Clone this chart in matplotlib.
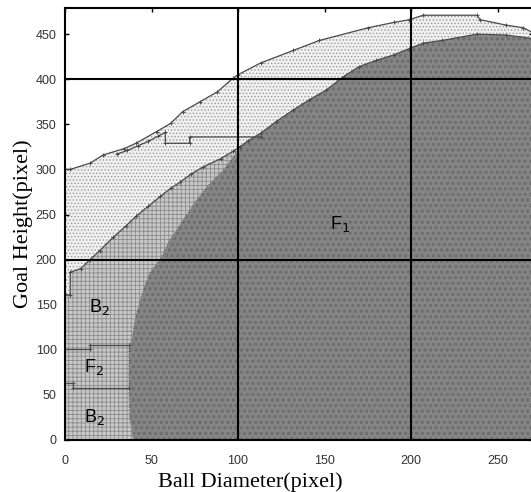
import matplotlib
matplotlib.use("Agg")
import matplotlib.pyplot as plt

# upper boundary (white / dotted region)
upper_x = [0, 3, 14.5, 22, 34, 41, 53, 61, 68, 78, 88, 97, 100, 113, 132, 147,
           175, 190, 199, 207, 238, 240, 255, 265, 271]
upper_y = [300, 300, 307, 316, 323, 329, 342, 351, 364, 375, 386, 401, 405, 418,
           432, 443, 457, 463, 466, 471, 471, 466, 460, 457, 451]

# inner line inside the dotted region
inner_x = [30, 36, 42, 48, 54, 58, 58, 72, 72, 113]
inner_y = [317, 321, 326, 331, 337, 341, 329, 329, 336, 336]

# F1 boundary, from the bottom up
f1_x = [39.5, 38.7, 37.5, 37, 37, 38.7, 40.5, 43, 46, 49, 55, 60.7, 68.4, 76, 84,
        91.5, 99, 101, 106, 113, 122, 132, 141, 151, 161, 170, 180, 190, 199, 207,
        218, 238, 255, 271]
f1_y = [0, 14, 22, 60, 103, 111, 133, 152, 170, 185, 200, 222, 244, 266, 285,
        299, 318, 325, 332, 340, 353, 366, 377, 388, 403, 414, 421, 427, 434, 440,
        443, 450, 449, 445]

# top of the B2/F2 band
band_x = [0, 3, 3, 9, 14.5, 20, 28, 35, 41, 48, 55, 61, 66.5, 73, 80, 90, 97, 101]
band_y = [161, 161, 186, 190, 200, 210, 225, 237, 248, 259, 270, 279, 286, 295,
          303, 312, 320, 325]

# F2 lines
f2_top_x = [0, 14.5, 14.5, 37]
f2_top_y = [101, 101, 105, 105]
f2_bot_x = [0, 4.5, 4.5, 37]
f2_bot_y = [63, 63, 58, 58]

grid_x = [100, 200]
grid_y = [200, 400]

fig = plt.figure(figsize=(5.31, 4.92), dpi=100)
ax = fig.add_axes([65 / 531, 52 / 492, 468 / 531, 432 / 492])
ax.set_xlim(0, 270.5)
ax.set_ylim(0, 479)

plt.rcParams['hatch.linewidth'] = 0.6

# dotted region
ax.fill_between(upper_x, 0, upper_y, facecolor='#f0f0f0', edgecolor='#9a9a9a',
                hatch='.....', linewidth=0, zorder=1)

# B2 / F2 band
n = f1_x.index(101)
med_x = [0] + f1_x[:n + 1] + band_x[::-1]
med_y = [0] + f1_y[:n + 1] + band_y[::-1]
ax.fill(med_x, med_y, facecolor='#c8c8c8', edgecolor='#8c8c8c', hatch='++++',
        linewidth=0, zorder=2)

# F1 region
dark_x = f1_x + [275, 275]
dark_y = f1_y + [440, 0]
ax.fill(dark_x, dark_y, facecolor='#858585', edgecolor='#6e6e6e', hatch='ooo',
        linewidth=0, zorder=3)

# boundary lines
line_kw = dict(color='#4a4a4a', lw=0.9, marker='+', ms=3, mew=0.7, zorder=4)
ax.plot(upper_x, upper_y, **line_kw)
ax.plot(inner_x, inner_y, **line_kw)
ax.plot(band_x, band_y, **line_kw)
ax.plot(f1_x[:n + 1], f1_y[:n + 1], color='#6a6a6a', lw=0.8, ls=':', zorder=4)
ax.plot(f1_x[n:], f1_y[n:], **line_kw)
ax.plot(f2_top_x, f2_top_y, **line_kw)
ax.plot(f2_bot_x, f2_bot_y, **line_kw)

for gx in grid_x:
    ax.axvline(gx, color='black', lw=1.5, zorder=5)
for gy in grid_y:
    ax.axhline(gy, color='black', lw=1.5, zorder=5)

# region labels
lab_kw = dict(fontsize=13, family='Liberation Sans', ha='center', va='center', zorder=6)
ax.text(20, 147, 'B$_2$', **lab_kw)
ax.text(17, 81, 'F$_2$', **lab_kw)
ax.text(17, 25, 'B$_2$', **lab_kw)
ax.text(159, 240, 'F$_1$', **lab_kw)

ax.set_xticks(range(0, 251, 50))
ax.set_yticks(range(0, 451, 50))
ax.tick_params(direction='in', length=3, width=1, top=True, right=True,
               labelsize=9, labelcolor='#333333')
ax.tick_params(axis='x', pad=11)
ax.tick_params(axis='y', pad=6)
for lab in ax.get_xticklabels() + ax.get_yticklabels():
    lab.set_family('Liberation Sans')
for s in ax.spines.values():
    s.set_linewidth(1.5)
    s.set_zorder(7)

ax.set_xlabel('Ball Diameter(pixel)', family='Liberation Serif', fontsize=16, labelpad=0)
ax.xaxis.set_label_coords((250 - 65) / 468, -0.075)
ax.set_ylabel('Goal Height(pixel)', family='Liberation Serif', fontsize=16, labelpad=2)

fig.savefig('out.png', dpi=100)
